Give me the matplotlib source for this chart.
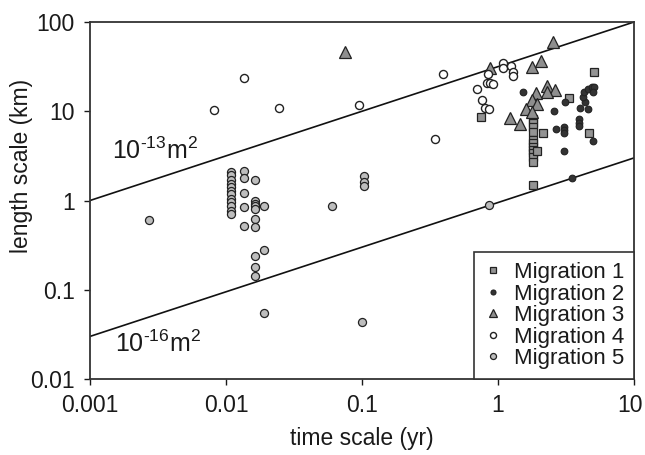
import matplotlib
matplotlib.use("Agg")
import matplotlib.pyplot as plt
import matplotlib.transforms as mtransforms
from matplotlib.ticker import NullLocator, FixedLocator, FixedFormatter

plt.rcParams['font.family'] = ['Liberation Sans', 'DejaVu Sans']
plt.rcParams['mathtext.fontset'] = 'custom'
plt.rcParams['mathtext.rm'] = 'Liberation Sans'
plt.rcParams['mathtext.it'] = 'Liberation Sans'

# ---- data ----
m1_x = [5.07, 3.32, 0.746, 1.82, 1.82, 1.82, 1.82, 1.82, 1.82, 1.82, 1.82, 1.82, 1.82, 1.82,
        2.15, 4.66, 1.95, 1.81]
m1_y = [27.4, 14.0, 8.57, 8.13, 7.33, 6.61, 5.81, 4.72, 4.37, 3.94, 3.65, 3.37, 3.04, 2.67,
        5.70, 5.70, 3.58, 1.50]

m2_x = [1.53, 3.12, 4.00, 4.56, 2.58, 4.39, 4.25, 4.32, 4.62, 4.91, 5.12, 4.99, 3.92, 3.92,
        3.92, 3.07, 3.07, 3.07, 2.66, 5.03, 3.07, 3.48]
m2_y = [16.5, 12.8, 10.9, 10.6, 10.0, 12.6, 14.5, 16.5, 17.7, 18.6, 18.7, 16.3, 8.1, 7.4,
        6.8, 6.6, 6.1, 5.7, 6.3, 4.7, 3.6, 1.79]

m3_x = [0.0746, 2.54, 0.880, 1.77, 2.07, 2.29, 2.63, 2.28, 1.90, 1.78, 1.95, 1.62, 1.78, 1.23, 1.46]
m3_y = [45.7, 60.1, 30.7, 31.0, 36.7, 19.2, 17.3, 16.3, 16.2, 13.3, 12.0, 10.6, 9.82, 8.34, 7.19]

m4_x = [0.00815, 0.01346, 0.0245, 0.0946, 0.396, 0.347, 0.851, 1.097, 1.09, 1.24, 1.30, 1.30,
        0.836, 0.874, 0.915, 0.706, 0.768, 0.799, 0.865]
m4_y = [10.2, 23.3, 10.8, 11.8, 26.1, 4.94, 26.2, 34.9, 30.7, 32.1, 27.7, 24.7,
        20.5, 20.5, 20.1, 17.7, 13.3, 10.9, 10.6]

m5_x = [0.0027,
        0.0109, 0.0109, 0.0109, 0.0109, 0.0109, 0.0109, 0.0109, 0.0109, 0.0109, 0.0109, 0.0109, 0.0109,
        0.01356, 0.01356, 0.01356, 0.01356, 0.01356,
        0.01643, 0.01643, 0.01643, 0.01643, 0.01643, 0.01643, 0.01643, 0.01643, 0.01643, 0.01643,
        0.01904, 0.01904, 0.01904,
        0.1031, 0.1031, 0.1031, 0.0599, 0.1, 0.859]
m5_y = [0.61,
        2.08, 1.91, 1.71, 1.54, 1.41, 1.27, 1.17, 1.04, 0.957, 0.857, 0.772, 0.709,
        2.12, 1.80, 1.22, 0.84, 0.524,
        1.68, 0.98, 0.918, 0.857, 0.798, 0.622, 0.501, 0.241, 0.178, 0.144,
        0.863, 0.279, 0.0552,
        1.86, 1.61, 1.44, 0.863, 0.0437, 0.90]

line_t = [0.001, 10]
upper_L = [1, 100]
lower_L = [0.03, 3]

x_ticks = [0.001, 0.01, 0.1, 1, 10]
x_labels = ['0.001', '0.01', '0.1', '1', '10']
y_ticks = [0.01, 0.1, 1, 10, 100]
y_labels = ['0.01', '0.1', '1', '10', '100']

# ---- figure ----
fig = plt.figure(figsize=(6.45, 4.55), dpi=100)
ax = fig.add_axes([90/645, 1 - 379/455, 544/645, 357/455])

ax.plot(line_t, upper_L, color='#111111', lw=1.2, zorder=1)
ax.plot(line_t, lower_L, color='#111111', lw=1.2, zorder=1)

ec = '#222222'
ax.plot(m1_x, m1_y, 's', ms=5.5, mfc='#939393', mec=ec, mew=0.9, ls='none', label='Migration 1', zorder=3)
ax.plot(m2_x, m2_y, 'o', ms=4.8, mfc='#333333', mec='#222222', mew=0.8, ls='none', label='Migration 2', zorder=3)
ax.plot(m3_x, m3_y, '^', ms=8, mfc='#8e8e8e', mec=ec, mew=0.9, ls='none', label='Migration 3', zorder=3)
ax.plot(m4_x, m4_y, 'o', ms=5.8, mfc='white', mec=ec, mew=1.0, ls='none', label='Migration 4', zorder=3)
ax.plot(m5_x, m5_y, 'o', ms=5.8, mfc='#bdbdbd', mec=ec, mew=0.9, ls='none', label='Migration 5', zorder=3)

ax.set_xscale('log')
ax.set_yscale('log')
ax.set_xlim(0.001, 10)
ax.set_ylim(0.01, 100)

ax.xaxis.set_major_locator(FixedLocator(x_ticks))
ax.xaxis.set_major_formatter(FixedFormatter(x_labels))
ax.yaxis.set_major_locator(FixedLocator(y_ticks))
ax.yaxis.set_major_formatter(FixedFormatter(y_labels))
ax.xaxis.set_minor_locator(NullLocator())
ax.yaxis.set_minor_locator(NullLocator())

fs = 16.5
ax.tick_params(axis='x', direction='out', length=4, width=1, pad=7, labelsize=fs, colors='#1a1a1a')
ax.tick_params(axis='y', direction='out', length=4, width=1, pad=7, labelsize=fs, colors='#1a1a1a')
for s in ax.spines.values():
    s.set_linewidth(1.3)
    s.set_color('#333333')

# keep the right-most x tick label inside the canvas
fig.canvas.draw()
last = ax.get_xticklabels()[-1]
last.set_transform(last.get_transform() + mtransforms.ScaledTranslation(-3/72, 0, fig.dpi_scale_trans))

ax.set_xlabel('time scale (yr)', fontsize=fs, color='#1a1a1a')
ax.set_ylabel('length scale (km)', fontsize=fs, color='#1a1a1a')
ax.xaxis.set_label_coords(0.5, -0.135)
ax.yaxis.set_label_coords(-0.105, 0.597)

ax.text(0.00145, 2.9, r'$\mathregular{10^{\text{-}13}m^{2}}$', fontsize=18, color='#1a1a1a',
        va='baseline', ha='left')
ax.text(0.00153, 0.0202, r'$\mathregular{10^{\text{-}16}m^{2}}$', fontsize=18, color='#1a1a1a',
        va='baseline', ha='left')

leg = ax.legend(loc='lower right', bbox_to_anchor=(1.0, 0.0), borderaxespad=0, fontsize=16,
                frameon=True, fancybox=False, edgecolor='#333333', framealpha=1,
                handlelength=0.8, handletextpad=0.55, labelspacing=0.02, borderpad=0.45,
                markerscale=0.75)
leg.get_frame().set_linewidth(1.2)
for t in leg.get_texts():
    t.set_color('#1a1a1a')

fig.savefig('out.png', dpi=100)
